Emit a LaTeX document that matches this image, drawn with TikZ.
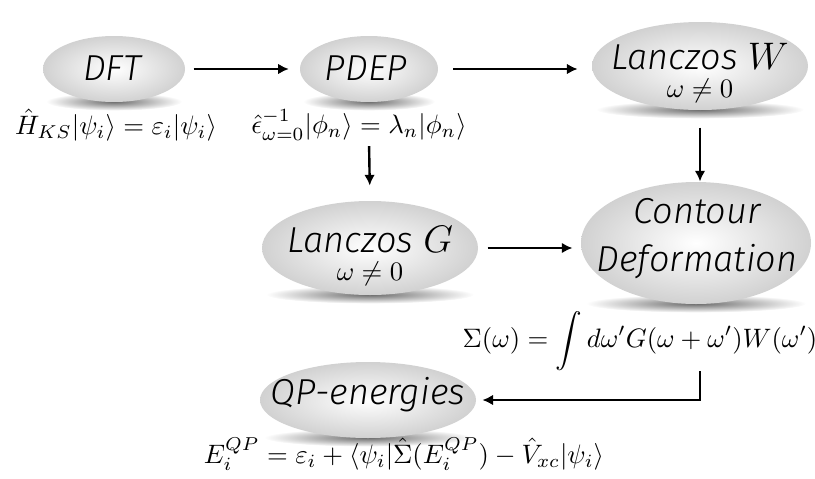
\documentclass[tikz,border=0pt]{standalone}
\usepackage{fontspec}
\newfontfamily\boxfont{Fira Sans Light Italic}[Scale=0.94]
\usetikzlibrary{shapes.geometric,arrows.meta,calc}
\pgfdeclarelayer{back}
\pgfsetlayers{back,main}
\begin{document}
\begin{tikzpicture}[x=0.375pt,y=-0.375pt,
  blob/.style={ellipse,inner sep=0pt,shading=radial,inner color=white,outer color=black!18},
  glow/.style={shading=radial,inner color=black!58,outer color=white},
  word/.style={font=\boxfont\Large,align=center,inner sep=0pt},
  eqn/.style={inner sep=0pt},
  flow/.style={line width=0.9pt,-{Latex[length=4pt,width=4pt]}}]
  \useasboundingbox (0,0) rectangle (815,478);
  % the steps
  \node[blob,minimum width=53.25pt,minimum height=24.75pt] (dft) at (114,69) {};
  \node[blob,minimum width=51.75pt,minimum height=24.75pt] (pdep) at (369,69) {};
  \node[blob,minimum width=81pt,minimum height=33pt] (lw) at (700,66) {};
  \node[blob,minimum width=81pt,minimum height=35.25pt] (lg) at (370,248) {};
  \node[blob,minimum width=86.25pt,minimum height=45.75pt] (cd) at (696,243) {};
  \node[blob,minimum width=81pt,minimum height=28.5pt] (qp) at (368,400) {};
  \node[word] (dftt) at (112,68) {DFT};
  \node[word] (pdept) at (366,68) {PDEP};
  \node[word] (lwt) at (700,73) {Lanczos $W$\\[-7.5pt]{\normalsize$\omega\neq0$}};
  \node[word] (lgt) at (370,256) {Lanczos $G$\\[-7.5pt]{\normalsize$\omega\neq0$}};
  \node[word] (cdt) at (697,239) {Contour\\Deformation};
  \node[word] (qpt) at (368,395) {QP-energies};
  % shadows under the steps
  \begin{pgfonlayer}{back}
    \foreach \n/\r in {dft/68,pdep/66,lw/104,lg/104,cd/110,qp/104}
      \shade[glow] ($(\n.south)+(0,-1)$) ellipse ({\r} and 9);
  \end{pgfonlayer}
  % equations
  \node[eqn] (hks) at (116,125) {$\hat{H}_{KS}|\psi_i\rangle=\varepsilon_i|\psi_i\rangle$};
  \node[eqn] (eps) at (359,125) {$\hat{\epsilon}^{-1}_{\omega=0}|\phi_n\rangle=\lambda_n|\phi_n\rangle$};
  \node[eqn] (sig) at (640,341) {$\displaystyle\Sigma(\omega)=\int d\omega'G(\omega+\omega')W(\omega')$};
  \node[eqn] (eqp) at (404,454) {$E_i^{QP}=\varepsilon_i+\langle\psi_i|\hat{\Sigma}(E_i^{QP})-\hat{V}_{xc}|\psi_i\rangle$};
  % arrows
  \draw[flow,shorten <=3pt,shorten >=4pt] (dft.east) -- (pdep.west);
  \draw[flow,shorten <=5.6pt,shorten >=5.2pt] (pdep.east) -- (lw.west |- pdep.east);
  \draw[flow,shorten <=2pt,shorten >=5.6pt] (pdep |- eps.south) -- (lg.north);
  \draw[flow,shorten <=6.4pt] (lw.south) -- (lw.south |- cd.north);
  \draw[flow,shorten <=3.4pt,shorten >=3pt] (lg.east) -- (lg.east -| cd.west);
  \draw[flow,shorten >=2.2pt] (lw |- sig.south) |- (qp.east);
\end{tikzpicture}
\end{document}
